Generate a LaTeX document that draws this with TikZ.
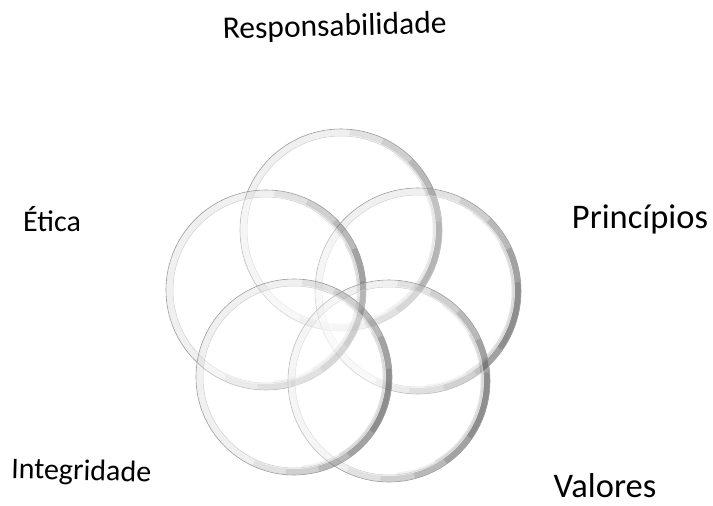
\documentclass[tikz,border=0pt]{standalone}
\usepackage{fontspec}
\setmainfont{Carlito}
\newcommand\glassdisc[4]{%
  \coordinate (#1) at (#2,#3);
  \fill[white, fill opacity=0.35] (#1) circle (#4pt);
  \draw[black, draw opacity=0.06, line width=6pt] (#1) circle (#4pt-3.5pt);
  \foreach \sp/\op in {100/0.06,80/0.08,60/0.1,40/0.12,20/0.12}{%
    \draw[black, draw opacity=\op, line width=6pt]
      ([shift={(-15-\sp:#4pt-3pt)}]#1) arc[start angle=-15-\sp, end angle=-15+\sp, radius=#4pt-3pt];
  }
  \foreach \sp/\op in {70/0.05,45/0.07}{%
    \draw[black, draw opacity=\op, line width=2.5pt]
      ([shift={(-15-\sp:#4pt-8pt)}]#1) arc[start angle=-15-\sp, end angle=-15+\sp, radius=#4pt-8pt];
  }
  \draw[gray!40, line width=0.5pt] (#1) circle (#4pt-7pt);
  \draw[gray!80, line width=0.6pt] (#1) circle (#4pt);
}
\begin{document}
\begin{tikzpicture}[x=1pt,y=1pt]
\tikzset{lbl/.style={anchor=base, text=black}}
\fill[white] (0,0) rectangle (713,-506);
\useasboundingbox (0,0) rectangle (713,-506);
\glassdisc{ctop}{341}{-230}{101}
\glassdisc{cright}{418}{-291}{103}
\glassdisc{cleft}{266}{-290}{100}
\glassdisc{cbr}{389}{-381}{101}
\glassdisc{cbl}{294}{-377}{98}
\node[lbl, rotate=1.5, font=\fontsize{31.5}{36}\selectfont] (resp) at (335,-36) {Responsabilidade};
\node[lbl, font=\fontsize{30}{36}\selectfont] (etica) at (52,-231) {Ética};
\node[lbl, font=\fontsize{34.5}{40}\selectfont] (princ) at (640,-228) {Princípios};
\node[lbl, rotate=-1.5, font=\fontsize{30}{36}\selectfont] (integ) at (81,-480) {Integridade};
\node[lbl, font=\fontsize{34.5}{40}\selectfont] (valores) at (605,-497) {Valores};
\end{tikzpicture}
\end{document}
